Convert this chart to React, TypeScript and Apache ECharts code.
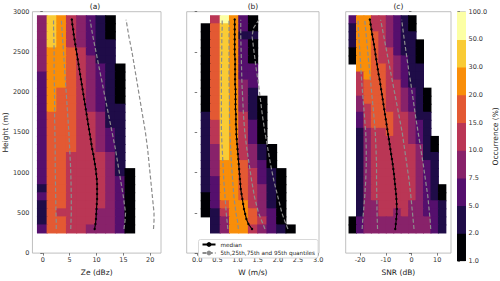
import React, { useEffect, useRef } from 'react';
import * as echarts from 'echarts';

// colour classes (occurrence %) and inferno colours
const occBounds = [1, 2, 5, 7.5, 10, 15, 20, 30, 50, 100];
const occColors = ['#000004', '#1f0c48', '#550f6d', '#88226a', '#ba3655', '#e35933', '#f98e09', '#f9cb35', '#fcffa4'];

// height bin edges (m), ascending
const heightEdges = [250, 350, 450, 550, 650, 750, 850, 950, 1050, 1150, 1250, 1350, 1450, 1550, 1650, 1750, 1850, 1950, 2050, 2150, 2250, 2350, 2450, 2550, 2650, 2750, 2850, 2950];

// column bin edges
const zeEdges = [-1, 0.8, 2.6, 4.4, 6.3, 8.1, 9.9, 11.7, 13.5, 15.3, 17.1];
const wEdges = [0.1, 0.33, 0.57, 0.8, 1.03, 1.27, 1.5, 1.73, 1.97, 2.2, 2.43];
const snrEdges = [-24.3, -21.4, -18.5, -15.6, -12.7, -9.8, -6.9, -4.0, -1.1, 1.8, 4.7, 7.6, 10.5, 13.4];

// occurrence (%) per row, top row (2850-2950 m) first
const zeOcc: (number | null)[][] = [
  [8.5, 40, 25, 12, 8.5, 6, 3.5, 1.5],
  [8.5, 40, 25, 12, 8.5, 6, 3.5, 1.5],
  [8.5, 40, 25, 12, 8.5, 6, 3.5, 1.5],
  [8.5, 40, 25, 12, 8.5, 6, 3.5, 3.5],
  [8.5, 25, 25, 17, 12, 6, 3.5, 3.5],
  [8.5, 25, 25, 17, 12, 8.5, 3.5, 3.5],
  [8.5, 25, 25, 17, 12, 8.5, 6, 3.5, 1.5],
  [6, 25, 25, 17, 12, 8.5, 6, 3.5, 1.5],
  [6, 25, 25, 17, 12, 8.5, 6, 3.5, 1.5],
  [6, 25, 17, 17, 12, 8.5, 6, 3.5, 1.5],
  [6, 25, 17, 17, 12, 8.5, 6, 3.5, 1.5],
  [6, 25, 17, 17, 12, 8.5, 6, 3.5, 3.5],
  [6, 17, 17, 17, 12, 12, 8.5, 3.5, 3.5],
  [6, 17, 17, 17, 12, 12, 8.5, 3.5, 3.5],
  [6, 17, 17, 17, 12, 12, 8.5, 6, 3.5],
  [6, 17, 17, 17, 12, 12, 8.5, 6, 3.5],
  [6, 17, 17, 17, 12, 12, 8.5, 6, 3.5],
  [6, 17, 17, 12, 12, 12, 12, 8.5, 3.5],
  [6, 17, 17, 12, 12, 12, 12, 8.5, 3.5],
  [6, 17, 17, 12, 12, 12, 12, 8.5, 3.5, 1.5],
  [6, 17, 17, 12, 12, 12, 12, 8.5, 6, 1.5],
  [3.5, 17, 17, 12, 12, 12, 12, 8.5, 6, 1.5],
  [6, 17, 17, 12, 12, 12, 12, 8.5, 6, 1.5],
  [3.5, 17, 17, 12, 12, 12, 12, 8.5, 6, 1.5],
  [3.5, 17, 12, 12, 12, 12, 8.5, 8.5, 6, 1.5],
  [3.5, 17, 17, 12, 12, 12, 8.5, 8.5, 6, 1.5],
  [6, 17, 17, 12, 12, 8.5, 8.5, 8.5, 6, 1.5],
];

const wOcc: (number | null)[][] = [
  [null, 12, 60, 25, 6, 1.5],
  [1.5, 17, 40, 25, 6, 1.5],
  [1.5, 17, 40, 25, 3.5, 3.5],
  [1.5, 17, 40, 25, 6, 1.5],
  [1.5, 17, 40, 25, 6, 1.5],
  [1.5, 17, 40, 25, 6, 1.5],
  [1.5, 17, 40, 25, 6, 6],
  [1.5, 17, 40, 25, 6, 6],
  [1.5, 17, 40, 25, 8.5, 6],
  [1.5, 17, 40, 25, 8.5, 3.5],
  [1.5, 17, 40, 25, 8.5, 3.5, 1.5],
  [1.5, 17, 40, 25, 8.5, 3.5, 1.5],
  [3.5, 17, 40, 25, 12, 3.5, 1.5],
  [3.5, 12, 40, 25, 12, 6, 1.5],
  [3.5, 12, 40, 25, 12, 6, 1.5],
  [3.5, 12, 40, 25, 12, 6, 1.5],
  [3.5, 8.5, 40, 25, 12, 8.5, 3.5, 1.5],
  [3.5, 8.5, 40, 25, 12, 8.5, 3.5, 1.5],
  [3.5, 8.5, 25, 25, 17, 8.5, 6, 1.5],
  [3.5, 8.5, 25, 25, 17, 12, 6, 3.5, 1.5],
  [3.5, 6, 25, 25, 17, 12, 6, 3.5, 1.5],
  [3.5, 6, 25, 25, 17, 12, 8.5, 3.5, 1.5],
  [1.5, 6, 25, 25, 17, 12, 8.5, 3.5, 1.5],
  [1.5, 6, 17, 25, 25, 12, 8.5, 3.5, 1.5],
  [1.5, 3.5, 12, 25, 25, 17, 8.5, 6, 1.5],
  [null, 3.5, 8.5, 25, 25, 17, 12, 6, 1.5],
  [null, 3.5, 8.5, 25, 25, 12, 8.5, 6, 3.5, 1.5],
];

const snrOcc: (number | null)[][] = [
  [6, 25, 25, 12, 12, 8.5, 6, 3.5, 1.5],
  [3.5, 25, 25, 12, 12, 8.5, 6, 3.5, 1.5],
  [3.5, 25, 25, 17, 12, 8.5, 6, 3.5, 3.5],
  [3.5, 25, 25, 17, 12, 8.5, 6, 3.5, 3.5, 1.5],
  [1.5, 25, 25, 17, 12, 12, 6, 3.5, 3.5, 1.5],
  [1.5, 25, 25, 17, 12, 12, 8.5, 6, 3.5, 1.5],
  [null, 25, 25, 17, 17, 12, 8.5, 6, 3.5, 3.5],
  [null, 12, 25, 17, 17, 12, 8.5, 6, 3.5, 3.5],
  [null, 12, 17, 17, 17, 12, 12, 6, 3.5, 3.5],
  [null, 12, 17, 17, 17, 12, 12, 8.5, 6, 3.5, 1.5],
  [null, 8.5, 17, 17, 17, 12, 12, 8.5, 6, 3.5, 1.5],
  [null, 8.5, 12, 17, 17, 12, 12, 8.5, 6, 3.5, 1.5],
  [null, 6, 12, 17, 17, 17, 12, 12, 8.5, 3.5, 3.5],
  [null, 6, 12, 17, 17, 17, 12, 12, 8.5, 6, 3.5],
  [null, 3.5, 8.5, 12, 12, 17, 12, 12, 8.5, 6, 3.5],
  [null, 3.5, 8.5, 12, 12, 12, 12, 12, 8.5, 6, 3.5, 1.5],
  [null, 3.5, 8.5, 12, 12, 12, 12, 12, 12, 8.5, 3.5, 1.5],
  [null, 3.5, 8.5, 12, 12, 12, 12, 12, 12, 8.5, 3.5, 3.5],
  [null, 3.5, 8.5, 12, 12, 12, 12, 12, 12, 8.5, 6, 3.5],
  [null, 3.5, 8.5, 12, 12, 12, 12, 12, 12, 8.5, 6, 3.5],
  [null, 3.5, 8.5, 12, 12, 12, 12, 12, 12, 8.5, 6, 3.5],
  [null, 3.5, 8.5, 12, 12, 12, 12, 12, 12, 8.5, 6, 3.5, 1.5],
  [null, 3.5, 8.5, 12, 12, 12, 12, 12, 12, 8.5, 6, 3.5, 1.5],
  [null, 3.5, 8.5, 8.5, 12, 12, 12, 12, 8.5, 8.5, 6, 6, 3.5],
  [null, 3.5, 8.5, 8.5, 12, 12, 8.5, 12, 8.5, 8.5, 6, 6, 3.5],
  [1.5, 6, 8.5, 8.5, 8.5, 8.5, 8.5, 8.5, 8.5, 8.5, 8.5, 6, 3.5],
  [1.5, 6, 8.5, 8.5, 8.5, 8.5, 8.5, 8.5, 8.5, 8.5, 8.5, 6, 3.5],
];

// median profiles
const medianHeights = [300, 362, 424, 486, 548, 610, 672, 734, 796, 858, 920, 982, 1044, 1106, 1168, 1230, 1292, 1354, 1416, 1478, 1540, 1602, 1664, 1726, 1788, 1850, 1912, 1974, 2036, 2098, 2160, 2222, 2284, 2346, 2408, 2470, 2532, 2594, 2656, 2718, 2780, 2842, 2904];
const zeMedian = [9.65, 9.8, 9.9, 9.95, 10.0, 10.05, 10.1, 10.1, 10.1, 10.1, 10.05, 9.95, 9.85, 9.7, 9.55, 9.4, 9.2, 9.05, 8.9, 8.75, 8.6, 8.45, 8.3, 8.15, 8.0, 7.85, 7.7, 7.55, 7.4, 7.25, 7.1, 6.95, 6.8, 6.65, 6.5, 6.35, 6.2, 6.05, 5.9, 5.75, 5.65, 5.5, 5.4];
const wMedian = [1.36, 1.27, 1.22, 1.19, 1.16, 1.14, 1.12, 1.1, 1.08, 1.07, 1.06, 1.05, 1.04, 1.03, 1.02, 1.01, 1.0, 0.99, 0.98, 0.97, 0.97, 0.96, 0.96, 0.96, 0.95, 0.95, 0.95, 0.95, 0.95, 0.94, 0.94, 0.94, 0.94, 0.94, 0.94, 0.93, 0.93, 0.93, 0.93, 0.93, 0.93, 0.93, 0.93];
const snrMedian = [-6.3, -6.1, -5.9, -5.75, -5.7, -5.75, -5.85, -6.0, -6.2, -6.4, -6.6, -6.8, -7.05, -7.3, -7.6, -7.9, -8.2, -8.5, -8.8, -9.1, -9.4, -9.7, -10.0, -10.3, -10.6, -10.9, -11.2, -11.5, -11.8, -12.1, -12.4, -12.8, -13.1, -13.4, -13.7, -14.0, -14.3, -14.6, -14.95, -15.3, -15.6, -15.9, -16.2];

// quantile profiles
const quantHeights = [300, 400, 500, 700, 900, 1100, 1300, 1500, 1700, 1900, 2100, 2300, 2500, 2700, 2800, 2900];
const zeQ05 = [2.5, 2.5, 2.45, 2.4, 2.35, 2.3, 2.3, 2.25, 2.2, 2.2, 2.15, 2.1, 2.1, 2.05, 2.0, 2.0];
const zeQ25 = [5.2, 5.25, 5.3, 5.3, 5.25, 5.15, 5.0, 4.85, 4.65, 4.45, 4.25, 4.05, 3.85, 3.65, 3.55, 3.45];
const zeQ75 = [15.1, 15.3, 15.4, 15.0, 14.5, 14.0, 13.5, 12.9, 12.3, 11.7, 11.1, 10.5, 9.9, 9.3, 9.05, 8.8];
const zeQ95 = [20.6, 20.7, 20.7, 20.4, 20.1, 19.8, 19.5, 19.1, 18.6, 18.1, 17.6, 17.1, 16.6, 16.0, 15.75, 15.5];
const wQ05 = [0.76, 0.74, 0.72, 0.69, 0.66, 0.64, 0.62, 0.6, 0.6, 0.6, 0.6, 0.6, 0.61, 0.61, 0.62, 0.62];
const wQ25 = [1.02, 1.0, 0.96, 0.91, 0.88, 0.85, 0.83, 0.81, 0.8, 0.8, 0.79, 0.79, 0.79, 0.79, 0.79, 0.79];
const wQ75 = [1.68, 1.6, 1.52, 1.42, 1.35, 1.29, 1.23, 1.18, 1.15, 1.13, 1.11, 1.1, 1.09, 1.08, 1.08, 1.08];
const wQ95 = [2.25, 2.17, 2.1, 2.0, 1.9, 1.82, 1.75, 1.68, 1.62, 1.57, 1.52, 1.46, 1.41, 1.36, 1.4, 1.53];
const snrQ05 = [-19.2, -19.0, -18.7, -18.2, -17.8, -17.6, -17.6, -17.8, -18.3, -18.8, -19.3, -19.7, -20.1, -20.5, -20.7, -20.8];
const snrQ25 = [-13.2, -13.3, -13.4, -13.5, -13.6, -13.6, -13.8, -14.1, -14.6, -15.2, -15.8, -16.4, -17.0, -17.6, -17.9, -18.2];
const snrQ75 = [1.0, 0.7, 0.4, -0.2, -0.9, -1.8, -2.7, -3.6, -4.8, -6.0, -7.2, -8.4, -9.6, -10.8, -11.4, -12.0];
const snrQ95 = [7.5, 7.3, 7.0, 6.4, 5.5, 4.6, 3.6, 2.6, 1.6, 0.7, -0.2, -1.2, -2.1, -3.0, -3.4, -3.8];

const zeTicks = [0, 5, 10, 15, 20];
const wTicks = [0, 0.5, 1.0, 1.5, 2.0, 2.5, 3.0];
const snrTicks = [-20, -10, 0, 10];

const MEDIAN = 'median';
const QUANT = '5th,25th,75th and 95th quantiles';
const FONT = 'DejaVu Sans';

function buildCells(rows: (number | null)[][], edges: number[]) {
  const out: number[][] = [];
  const n = heightEdges.length - 1;
  rows.forEach((row, r) => {
    const hi = heightEdges[n - r];
    const lo = heightEdges[n - r - 1];
    row.forEach((v, c) => {
      if (v !== null && v !== undefined) out.push([edges[c], edges[c + 1], lo, hi, v]);
    });
  });
  return out;
}

const renderCell = (params: any, api: any) => {
  const a = api.coord([api.value(0), api.value(3)]);
  const b = api.coord([api.value(1), api.value(2)]);
  const color = api.visual('color');
  const pad = 0.5;
  return {
    type: 'rect',
    shape: { x: a[0] - pad, y: a[1] - pad, width: b[0] - a[0] + 2 * pad, height: b[1] - a[1] + 2 * pad },
    style: { fill: color, stroke: null, lineWidth: 0 },
  };
};

function pairs(xs: number[], hs: number[]) {
  return hs.map((h, i) => [xs[i], h]);
}

export default function App() {
  const ref = useRef<HTMLDivElement>(null);
  useEffect(() => {
    if (!ref.current) return;
    const chart = echarts.init(ref.current, null, { renderer: 'svg' });

    const grids = [
      { left: 29, top: 11.7, width: 132, height: 249.3 },
      { left: 186.7, top: 11.7, width: 132.3, height: 249.3 },
      { left: 345.7, top: 11.7, width: 105.3, height: 249.3 },
      { left: 457.5, top: 11.7, width: 16, height: 249.3 },
    ].map((g) => ({ ...g, show: true, borderColor: '#b0b0b0', borderWidth: 0.8, backgroundColor: 'transparent' }));

    const labelStyle = { fontSize: 6.5, color: '#333', fontFamily: FONT, margin: 3 };
    const tickStyle = { length: 2.5, lineStyle: { color: '#444', width: 0.7 } };
    const nameStyle = { fontSize: 7.5, color: '#222', fontFamily: FONT };

    const mkX = (gi: number, min: number, max: number, ticks: number[], name: string, fmt?: (v: number) => string) => ({
      type: 'value', gridIndex: gi, min, max,
      name, nameLocation: 'middle', nameGap: 13, nameTextStyle: nameStyle,
      axisLine: { show: false },
      axisTick: { ...tickStyle, customValues: ticks },
      axisLabel: { ...labelStyle, customValues: ticks, formatter: (v: number) => (fmt ? fmt(v) : String(v)) },
      splitLine: { show: false },
    });
    const mkY = (gi: number, showLabels: boolean) => ({
      type: 'value', gridIndex: gi, min: 0, max: 3000, interval: 500,
      name: showLabels ? 'Height (m)' : '', nameLocation: 'middle', nameGap: 21, nameTextStyle: nameStyle,
      axisLine: { show: false },
      axisTick: tickStyle,
      axisLabel: { ...labelStyle, show: showLabels, formatter: (v: number) => String(v) },
      splitLine: { show: false },
    });

    const heatSeries = [
      buildCells(zeOcc, zeEdges),
      buildCells(wOcc, wEdges),
      buildCells(snrOcc, snrEdges),
    ].map((data, i) => ({
      type: 'custom', xAxisIndex: i, yAxisIndex: i, data, renderItem: renderCell,
      encode: { x: [0, 1], y: [2, 3] }, silent: true, z: 1,
    }));

    const cbData = occColors.map((_, i) => [0, 1, i, i + 1, occBounds[i]]);
    const cbSeries = {
      type: 'custom', xAxisIndex: 3, yAxisIndex: 3, data: cbData, renderItem: renderCell,
      encode: { x: [0, 1], y: [2, 3] }, silent: true, z: 1, clip: true,
    };

    const medianSeries = [
      pairs(zeMedian, medianHeights),
      pairs(wMedian, medianHeights),
      pairs(snrMedian, medianHeights),
    ].map((data, i) => ({
      type: 'line', name: MEDIAN, xAxisIndex: i, yAxisIndex: i, data,
      symbol: 'circle', symbolSize: 2.4, showAllSymbol: true,
      lineStyle: { color: '#000', width: 1.1 }, itemStyle: { color: '#000' },
      z: 4, silent: true,
    }));

    const quantSets = [
      [zeQ05, zeQ25, zeQ75, zeQ95],
      [wQ05, wQ25, wQ75, wQ95],
      [snrQ05, snrQ25, snrQ75, snrQ95],
    ];
    const quantSeries: any[] = [];
    quantSets.forEach((set, i) => {
      set.forEach((q) => {
        quantSeries.push({
          type: 'line', name: QUANT, xAxisIndex: i, yAxisIndex: i, data: pairs(q, quantHeights),
          symbol: 'none', lineStyle: { color: '#8c8c8c', width: 1.2, type: [4, 2.2] },
          itemStyle: { color: '#8c8c8c' }, z: 3, silent: true,
        });
      });
    });

    const option: any = {
      animation: false,
      textStyle: { fontFamily: FONT },
      title: [
        { text: '(a)', left: 95, top: 2 },
        { text: '(b)', left: 253, top: 2 },
        { text: '(c)', left: 398.4, top: 2 },
      ].map((t) => ({ ...t, textAlign: 'center', padding: 0, textStyle: { fontSize: 7.5, fontWeight: 'normal', color: '#222', fontFamily: FONT } })),
      grid: grids,
      xAxis: [
        mkX(0, -1.93, 22, zeTicks, 'Ze (dBz)'),
        mkX(1, -0.26, 3.02, wTicks, 'W (m/s)', (v) => v.toFixed(1)),
        mkX(2, -25.6, 15.4, snrTicks, 'SNR (dB)'),
        { type: 'value', gridIndex: 3, min: 0, max: 1, show: false },
      ],
      yAxis: [
        mkY(0, true),
        mkY(1, false),
        mkY(2, false),
        {
          type: 'value', gridIndex: 3, min: 0, max: 9, interval: 1, position: 'right',
          name: 'Occurrence (%)', nameLocation: 'middle', nameGap: 21, nameRotate: 90, nameTextStyle: nameStyle,
          axisLine: { show: false },
          axisTick: tickStyle,
          axisLabel: { ...labelStyle, formatter: (v: number) => occBounds[v].toFixed(1) },
          splitLine: { show: false },
        },
      ],
      visualMap: {
        type: 'piecewise', show: false, dimension: 4, seriesIndex: [0, 1, 2, 3],
        pieces: occColors.map((c, i) => ({ gte: occBounds[i], lt: occBounds[i + 1], color: c })),
      },
      legend: {
        data: [MEDIAN, QUANT],
        orient: 'vertical', left: 198.5, top: 239.5,
        itemWidth: 13, itemHeight: 6, itemGap: 2.5,
        padding: [2, 3, 2, 3],
        textStyle: { fontSize: 5.7, color: '#222', fontFamily: FONT },
        borderColor: '#cfcfcf', borderWidth: 0.8, borderRadius: 2, backgroundColor: '#fff',
        selectedMode: false,
      },
      series: [...heatSeries, cbSeries, ...quantSeries, ...medianSeries],
    };

    chart.setOption(option);
    return () => chart.dispose();
  }, []);

  return <div ref={ref} style={{ position: 'fixed', left: 0, top: 0, width: 500, height: 281, background: '#fff' }} />;
}
